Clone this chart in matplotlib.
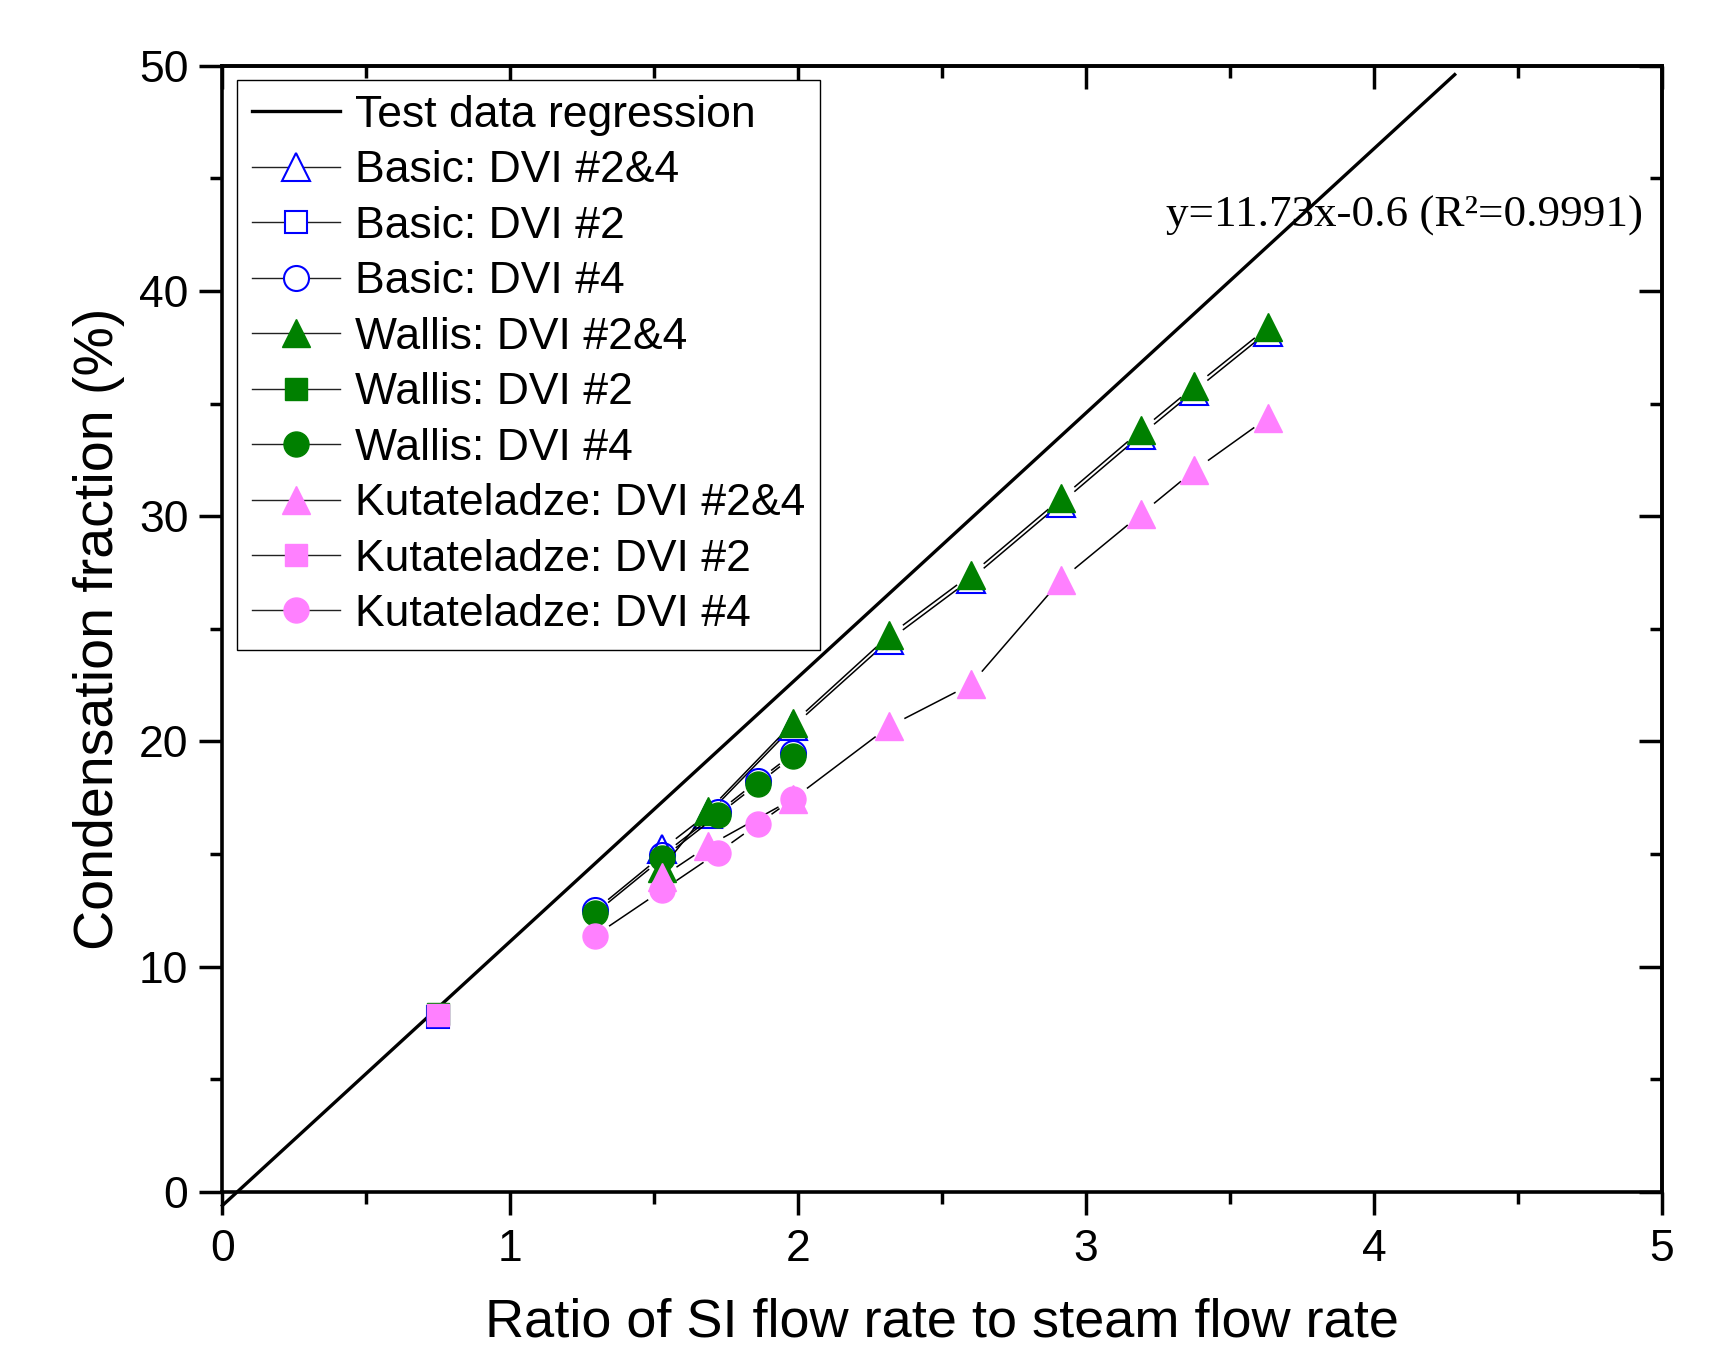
import numpy as np
import matplotlib
matplotlib.use("Agg")
import matplotlib.pyplot as plt
from matplotlib.collections import LineCollection
from matplotlib.lines import Line2D
from matplotlib.ticker import MultipleLocator

plt.rcParams['font.family'] = ['Liberation Sans', 'DejaVu Sans']

# ---------------- data ----------------
x_dvi2 = [0.75]
basic_dvi2 = [7.75]
wallis_dvi2 = [7.9]
kut_dvi2 = [7.86]

x_dvi4 = [1.294, 1.528, 1.72, 1.859, 1.983]
basic_dvi4 = [12.5, 14.95, 16.85, 18.25, 19.47]
wallis_dvi4 = [12.37, 14.81, 16.73, 18.11, 19.35]
kut_dvi4 = [11.38, 13.4, 15.06, 16.33, 17.46]

x_dvi24 = [1.528, 1.688, 1.983, 2.316, 2.599, 2.914, 3.19, 3.375, 3.632]
basic_dvi24 = [15.22, 16.8, 20.68, 24.5, 27.2, 30.6, 33.6, 35.55, 38.2]
wallis_dvi24 = [14.4, 16.93, 20.83, 24.71, 27.4, 30.8, 33.81, 35.76, 38.39]
kut_dvi24 = [14.0, 15.37, 17.46, 20.67, 22.53, 27.19, 30.09, 32.03, 34.38]

reg_slope = 11.73
reg_intercept = -0.6
reg_x = [0.0, 4.28]
equation = "y=11.73x-0.6 (R\u00b2=0.9991)"

xlabel = "Ratio of SI flow rate to steam flow rate"
ylabel = "Condensation fraction (%)"

# ---------------- figure ----------------
W, H = 1718, 1363
fig = plt.figure(figsize=(W / 100, H / 100), dpi=100)
ax = fig.add_axes([222.4 / W, 1 - 1192 / H, (1662 - 222.4) / W, (1192 - 65.7) / H])
ax.set_xlim(0, 5)
ax.set_ylim(0, 50)

BLUE = '#0000ff'
GREEN = '#008000'
PINK = '#ff80ff'
GAP = 17  # px gap between connecting line and markers


def gapped_line(x, y, zorder):
    pts = ax.transData.transform(np.column_stack([x, y]))
    segs = []
    for p, q in zip(pts[:-1], pts[1:]):
        d = q - p
        L = np.hypot(*d)
        if L > 2 * GAP:
            u = d / L
            seg = np.array([p + u * GAP, q - u * GAP])
            segs.append(ax.transData.inverted().transform(seg))
    if segs:
        ax.add_collection(LineCollection(segs, colors='black', linewidths=1.1,
                                         zorder=zorder))


series = [
    ("Basic: DVI #2&4", x_dvi24, basic_dvi24, '^', BLUE, False, 20),
    ("Basic: DVI #2", x_dvi2, basic_dvi2, 's', BLUE, False, 15.5),
    ("Basic: DVI #4", x_dvi4, basic_dvi4, 'o', BLUE, False, 18),
    ("Wallis: DVI #2&4", x_dvi24, wallis_dvi24, '^', GREEN, True, 20),
    ("Wallis: DVI #2", x_dvi2, wallis_dvi2, 's', GREEN, True, 15.5),
    ("Wallis: DVI #4", x_dvi4, wallis_dvi4, 'o', GREEN, True, 18),
    ("Kutateladze: DVI #2&4", x_dvi24, kut_dvi24, '^', PINK, True, 20),
    ("Kutateladze: DVI #2", x_dvi2, kut_dvi2, 's', PINK, True, 15.5),
    ("Kutateladze: DVI #4", x_dvi4, kut_dvi4, 'o', PINK, True, 18),
]

# regression line
reg_y = [reg_slope * v + reg_intercept for v in reg_x]
ax.plot(reg_x, reg_y, color='black', lw=2.4, clip_on=False, zorder=2)

handles = [Line2D([], [], color='black', lw=2.4)]
labels = ["Test data regression"]
z = 3
for lab, xs, ys, mk, col, filled, ms in series:
    gapped_line(xs, ys, z)
    if filled:
        ax.plot(xs, ys, ls='none', marker=mk, ms=ms, mfc=col, mec=col, mew=1,
                zorder=z + 0.5)
    else:
        ax.plot(xs, ys, ls='none', marker=mk, ms=ms, mfc='none', mec=col,
                mew=1.5, zorder=z + 0.5)
    handles.append(Line2D([], [], color='#222222', lw=1.0, marker=mk, ms=ms,
                          mfc=col if filled else 'white', mec=col,
                          mew=1 if filled else 1.5))
    labels.append(lab)
    z += 1

ax.text(4.934, 42.85, equation, ha='right', va='baseline', fontsize=32.5,
        family=['Liberation Serif', 'DejaVu Serif'], zorder=20)

leg = ax.legend(handles, labels, loc='upper left', fontsize=32,
                borderaxespad=0.33, labelspacing=0.325, handlelength=1.98,
                handletextpad=0.34, borderpad=0.33, markerscale=1.0,
                fancybox=False, framealpha=1, edgecolor='black')
leg.get_frame().set_linewidth(1.0)
leg.set_zorder(30)

# ---------------- axes styling ----------------
for sp in ax.spines.values():
    sp.set_linewidth(2.6)
ax.xaxis.set_major_locator(MultipleLocator(1))
ax.xaxis.set_minor_locator(MultipleLocator(0.5))
ax.yaxis.set_major_locator(MultipleLocator(10))
ax.yaxis.set_minor_locator(MultipleLocator(5))
ax.tick_params(which='both', direction='out', width=2.5, top=False, right=False,
               labelsize=32)
ax.tick_params(which='major', length=16.5)
ax.tick_params(which='minor', length=8.5)
ax.tick_params(axis='x', which='major', pad=10)
ax.tick_params(axis='y', which='major', pad=8)

secx = ax.secondary_xaxis('top')
secx.xaxis.set_major_locator(MultipleLocator(1))
secx.xaxis.set_minor_locator(MultipleLocator(0.5))
secx.tick_params(which='both', direction='in', width=2.5, labeltop=False)
secx.tick_params(which='major', length=16.5)
secx.tick_params(which='minor', length=8.5)
secx.spines['top'].set_linewidth(2.6)

secy = ax.secondary_yaxis('right')
secy.yaxis.set_major_locator(MultipleLocator(10))
secy.yaxis.set_minor_locator(MultipleLocator(5))
secy.tick_params(which='both', direction='in', width=2.5, labelright=False)
secy.tick_params(which='major', length=16.5)
secy.tick_params(which='minor', length=8.5)
secy.spines['right'].set_linewidth(2.6)

ax.set_xlabel(xlabel, fontsize=39)
ax.set_ylabel(ylabel, fontsize=40)
ax.xaxis.set_label_coords(0.5, -0.094)
ax.yaxis.set_label_coords(-0.0675, 0.5)

fig.savefig("out.png", dpi=100)
